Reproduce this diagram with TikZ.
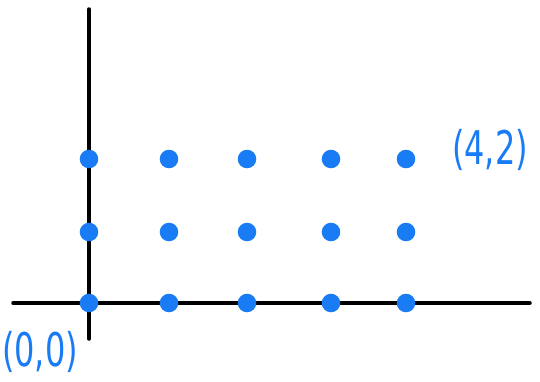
\documentclass[tikz,border=0pt]{standalone}
\usepackage{fontspec}
\setmainfont{DejaVu Sans}
\definecolor{pen}{HTML}{1A7CF5}
\begin{document}
\begin{tikzpicture}[x=1pt,y=-1pt,
  dot/.style={circle,fill=pen,draw=pen,line width=1.5pt,inner sep=0pt,minimum size=17pt},
  lbl/.style={text=pen,font=\fontsize{32}{34}\selectfont,inner sep=0pt,yscale=1.45,transform shape},
  axis/.style={line width=3.5pt,black,line cap=round}]
\useasboundingbox (0,0) rectangle (540,381);
\coordinate (yt) at (89,9);
\coordinate (yb) at (89,339);
\coordinate (xl) at (13,303);
\coordinate (xr) at (530,303);
\draw[axis] (yt) -- (yb);
\draw[axis] (xl) -- (xr);
\foreach \c/\x in {0/89,1/169,2/247,3/331,4/406}{
  \foreach \r/\y in {0/303,1/232,2/159}{
    \node[dot] (p\c\r) at (\x,\y) {};
  }
}
\node[lbl] (l42) at (490,150) {(4,2)};
\node[lbl] (l00) at (40,352) {(0,0)};
\end{tikzpicture}
\end{document}
